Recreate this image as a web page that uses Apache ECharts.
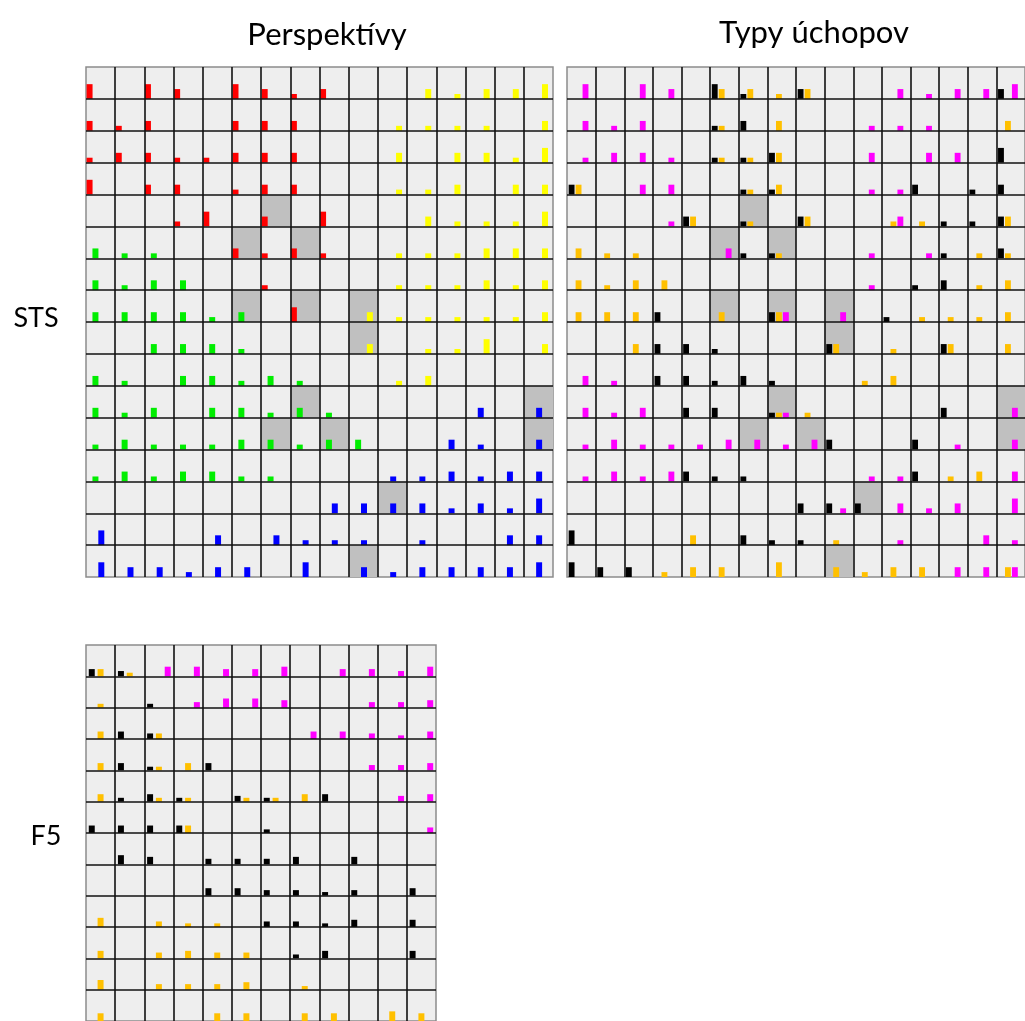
<!DOCTYPE html>
<html>
<head>
<meta charset="utf-8">
<script src="https://cdn.jsdelivr.net/npm/echarts@6.0.0/dist/echarts.min.js"></script>
<style>
  html, body { margin: 0; padding: 0; background: #ffffff; }
  #chart { width: 1025px; height: 1021px; }
</style>
</head>
<body>
<div id="chart"></div>
<script>
// ---- Data: each entry is [column, row, value] ----

// Perspektívy
const perspRed = [
  [0,0,3],[2,0,3],[3,0,2],[5,0,3],[6,0,2],[7,0,1],[8,0,2],
  [0,1,2],[1,1,1],[2,1,2],[5,1,2],[6,1,2],[7,1,2],
  [0,2,1],[1,2,2],[2,2,2],[3,2,1],[4,2,1],[5,2,2],[6,2,2],[7,2,2],
  [0,3,3],[2,3,2],[3,3,2],[5,3,1],[6,3,2],[7,3,2],
  [3,4,1],[4,4,3],[6,4,2],[8,4,3],
  [5,5,2],[6,5,1],[7,5,2],[8,5,1],
  [6,6,1],
  [7,7,3]
];
const perspGreen = [
  [0,5,2],[1,5,1],[2,5,1],
  [0,6,2],[1,6,1],[2,6,2],[3,6,2],
  [0,7,2],[1,7,2],[2,7,2],[3,7,2],[4,7,1],[5,7,2],
  [2,8,2],[3,8,2],[4,8,2],[5,8,1],
  [0,9,2],[1,9,1],[3,9,2],[4,9,2],[5,9,1],[6,9,2],[7,9,1],
  [0,10,2],[1,10,1],[2,10,2],[4,10,2],[5,10,2],[6,10,1],[7,10,2],[8,10,1],
  [0,11,1],[1,11,2],[2,11,1],[3,11,1],[4,11,1],[5,11,2],[6,11,2],[7,11,1],[8,11,2],[9,11,2],
  [0,12,1],[1,12,2],[2,12,1],[3,12,2],[4,12,2],[5,12,1],[6,12,1]
];
const perspBlue = [
  [13,10,2],[15,10,2],
  [12,11,2],[13,11,1],[15,11,2],
  [10,12,1],[11,12,1],[12,12,2],[13,12,1],[14,12,2],[15,12,2],
  [8,13,2],[9,13,2],[10,13,2],[11,13,2],[12,13,1],[13,13,2],[14,13,1],[15,13,3],
  [0,14,3],[4,14,2],[6,14,2],[7,14,1],[8,14,1],[9,14,1],[11,14,1],[14,14,2],[15,14,2],
  [0,15,3],[1,15,2],[2,15,2],[3,15,1],[4,15,2],[5,15,2],[7,15,3],[9,15,2],[10,15,1],
  [11,15,2],[12,15,2],[13,15,2],[14,15,2],[15,15,3]
];
const perspYellow = [
  [11,0,2],[12,0,1],[13,0,2],[14,0,2],[15,0,3],
  [10,1,1],[11,1,1],[12,1,1],[13,1,1],[15,1,2],
  [10,2,2],[12,2,2],[13,2,2],[14,2,1],[15,2,3],
  [10,3,1],[11,3,1],[12,3,2],[14,3,2],[15,3,2],
  [11,4,2],[12,4,1],[13,4,1],[14,4,1],[15,4,3],
  [10,5,1],[11,5,1],[12,5,1],[13,5,2],[14,5,2],[15,5,2],
  [10,6,1],[11,6,1],[12,6,1],[13,6,2],[14,6,1],[15,6,2],
  [9,7,2],[10,7,1],[11,7,1],[12,7,1],[13,7,1],[14,7,1],[15,7,2],
  [9,8,2],[11,8,1],[12,8,1],[13,8,3],[15,8,2],
  [10,9,1],[11,9,2]
];

// Typy úchopov
const typyBlack = [
  [5,0,3],[6,0,1],[8,0,2],[15,0,2],
  [5,1,1],[6,1,2],
  [5,2,1],[6,2,1],[7,2,2],[15,2,3],
  [0,3,2],[6,3,1],[7,3,1],[12,3,2],[14,3,1],[15,3,2],
  [4,4,2],[6,4,1],[8,4,2],[13,4,1],[14,4,1],[15,4,2],
  [6,5,1],[7,5,1],[13,5,1],[15,5,2],
  [12,6,1],[13,6,2],
  [3,7,2],[7,7,2],[11,7,1],
  [3,8,2],[4,8,2],[5,8,1],[9,8,2],[13,8,2],
  [3,9,2],[4,9,2],[5,9,1],[6,9,2],[7,9,1],
  [4,10,2],[5,10,2],[7,10,1],[13,10,2],
  [9,11,2],[12,11,2],
  [4,12,2],[5,12,1],[6,12,1],[12,12,2],
  [8,13,2],[9,13,2],[10,13,2],
  [0,14,3],[6,14,2],[7,14,1],[8,14,1],
  [0,15,3],[1,15,2],[2,15,2]
];
const typyOrange = [
  [5,0,2],[6,0,2],[7,0,1],[8,0,2],
  [5,1,1],[7,1,2],[15,1,2],
  [5,2,1],[6,2,1],[7,2,2],
  [0,3,2],[6,3,1],[7,3,2],
  [4,4,2],[6,4,1],[8,4,2],[11,4,1],[12,4,1],[15,4,2],
  [0,5,2],[1,5,1],[2,5,1],[7,5,1],[14,5,1],[15,5,1],
  [0,6,2],[1,6,1],[2,6,2],[3,6,2],[14,6,1],[15,6,2],
  [0,7,2],[1,7,2],[2,7,2],[5,7,2],[7,7,2],[12,7,1],[13,7,1],[14,7,1],[15,7,2],
  [2,8,2],[9,8,2],[11,8,1],[13,8,2],[15,8,2],
  [10,9,1],[11,9,2],
  [7,10,1],[8,10,1],
  [13,12,1],[14,12,2],
  [4,14,2],[9,14,1],
  [3,15,1],[4,15,2],[5,15,2],[7,15,3],[9,15,2],[10,15,1],[11,15,2],[12,15,2],[15,15,2]
];
const typyMagenta = [
  [0,0,3],[2,0,3],[3,0,2],[11,0,2],[12,0,1],[13,0,2],[14,0,2],[15,0,3],
  [0,1,2],[1,1,1],[2,1,2],[10,1,1],[11,1,1],[12,1,1],
  [0,2,1],[1,2,2],[2,2,2],[3,2,1],[10,2,2],[12,2,2],[13,2,2],
  [2,3,2],[3,3,2],[10,3,1],[11,3,1],
  [3,4,1],[11,4,2],
  [5,5,2],[10,5,1],[12,5,1],
  [10,6,1],
  [7,7,2],[9,7,2],
  [0,9,2],[1,9,1],
  [0,10,2],[1,10,1],[2,10,2],[7,10,1],[15,10,2],
  [0,11,1],[1,11,2],[2,11,1],[3,11,1],[4,11,1],[5,11,2],[6,11,2],[7,11,1],[8,11,2],[13,11,1],[15,11,2],
  [0,12,1],[1,12,2],[2,12,1],[3,12,2],[10,12,1],[11,12,1],[15,12,2],
  [9,13,1],[11,13,2],[12,13,1],[13,13,2],[15,13,3],
  [11,14,1],[14,14,2],[15,14,1],
  [13,15,2],[14,15,2],[15,15,2]
];

// F5
const f5Black = [
  [0,0,1.5],[1,0,1.1],
  [2,1,0.8],
  [1,2,1.55],[2,2,1.15],
  [1,3,1.5],[2,3,0.75],[4,3,1.5],
  [1,4,0.8],[2,4,1.55],[3,4,0.8],[5,4,1.2],[6,4,0.8],[8,4,1.55],
  [0,5,1.55],[1,5,1.55],[2,5,1.55],[3,5,1.55],[6,5,0.75],
  [1,6,1.9],[2,6,1.55],[4,6,1.15],[5,6,1.15],[6,6,1.15],[7,6,1.55],[9,6,1.55],
  [4,7,1.55],[5,7,1.55],[6,7,1.15],[7,7,1.15],[8,7,0.75],[9,7,1.15],[11,7,1.55],
  [6,8,1.15],[7,8,1.15],[8,8,0.75],[9,8,1.5],[11,8,1.5],
  [7,9,0.8],[8,9,1.55],[11,9,1.55]
];
const f5Orange = [
  [0,0,1.5],[1,0,0.75],
  [0,1,0.8],
  [0,2,1.55],[2,2,1.15],
  [0,3,1.5],[2,3,0.75],[3,3,1.5],
  [0,4,1.55],[2,4,0.8],[3,4,0.8],[5,4,0.8],[6,4,0.8],[7,4,1.55],
  [3,5,1.55],
  [0,8,1.9],[2,8,1.15],[3,8,0.75],[4,8,0.75],
  [0,9,1.55],[2,9,1.2],[3,9,1.55],[4,9,1.2],[5,9,1.2],
  [0,10,2],[2,10,1.15],[3,10,1.15],[4,10,1.15],[5,10,1.55],[7,10,0.75],
  [0,11,1.6],[4,11,1.6],[5,11,1.6],[7,11,1.6],[8,11,1.6],[10,11,2],[11,11,1.6]
];
const f5Magenta = [
  [2,0,2],[3,0,2],[4,0,1.5],[5,0,1.5],[6,0,2],[8,0,1.5],[9,0,1.5],[10,0,1.1],[11,0,2],
  [3,1,1.15],[4,1,1.9],[5,1,1.9],[6,1,1.55],[9,1,1.15],[10,1,1.15],[11,1,1.55],
  [7,2,1.55],[8,2,1.55],[9,2,1.15],[10,2,0.75],[11,2,1.55],
  [9,3,1.1],[10,3,1.1],[11,3,1.5],
  [10,4,1.2],[11,4,1.55],
  [11,5,1.15]
];

// Cells without data: [column, row]
const missingCells = [
  [6,4],[5,5],[7,5],[5,7],[7,7],[9,7],[9,8],[7,10],[15,10],
  [6,11],[8,11],[15,11],[10,13],[9,15]
];

// Panel titles and row-group labels
const panelTitles = ['Perspektívy', 'Typy úchopov'];
const rowGroupLabels = ['STS', 'F5'];

// ---- Layout ----
const ROW_SPAN = 6.5; // value units spanned by one matrix row

const panels = [
  { cols: 16, rows: 16, grid: { left: 86, top: 67, width: 467, height: 510 },
    slots: { start: 0.02, step: 0.201, width: 0.205 } },
  { cols: 16, rows: 16, grid: { left: 567, top: 67, width: 467, height: 510 },
    slots: { start: 0.058, step: 0.243, width: 0.205 } },
  { cols: 12, rows: 12, grid: { left: 86, top: 645, width: 350, height: 382 },
    slots: { start: 0.095, step: 0.302, width: 0.205 } }
];

const barGroups = [
  { panel: 0, slot: 0, color: '#ff0000', name: 'perspRed', data: perspRed },
  { panel: 0, slot: 1, color: '#00ee00', name: 'perspGreen', data: perspGreen },
  { panel: 0, slot: 2, color: '#0000ff', name: 'perspBlue', data: perspBlue },
  { panel: 0, slot: 3, color: '#ffff00', name: 'perspYellow', data: perspYellow },
  { panel: 1, slot: 0, color: '#000000', name: 'typyBlack', data: typyBlack },
  { panel: 1, slot: 1, color: '#ffc000', name: 'typyOrange', data: typyOrange },
  { panel: 1, slot: 2, color: '#ff00ff', name: 'typyMagenta', data: typyMagenta },
  { panel: 2, slot: 0, color: '#000000', name: 'f5Black', data: f5Black },
  { panel: 2, slot: 1, color: '#ffc000', name: 'f5Orange', data: f5Orange },
  { panel: 2, slot: 2, color: '#ff00ff', name: 'f5Magenta', data: f5Magenta }
];

// Small bar standing on the bottom edge of its matrix cell
function makeBarRenderer(slots, slot, color) {
  return function (params, api) {
    const col = api.value(0), row = api.value(1), v = api.value(2);
    const x0 = col + slots.start + slot * slots.step;
    const base = (row + 1) * ROW_SPAN;
    const a = api.coord([x0, base]);
    const b = api.coord([x0 + slots.width, base - v]);
    return {
      type: 'rect',
      shape: { x: a[0], y: b[1], width: b[0] - a[0], height: a[1] - b[1] },
      style: { fill: color }
    };
  };
}

// Grey fill for a whole cell
function renderMissingCell(params, api) {
  const col = api.value(0), row = api.value(1);
  const a = api.coord([col, row * ROW_SPAN]);
  const b = api.coord([col + 1, (row + 1) * ROW_SPAN]);
  return {
    type: 'rect',
    shape: { x: a[0], y: a[1], width: b[0] - a[0], height: b[1] - a[1] },
    style: { fill: '#c0c0c0' }
  };
}

const lineStyle = { color: '#111111', width: 1.6 };

const grid = panels.map(p => Object.assign({
  show: true, backgroundColor: '#eeeeee', borderColor: '#8c8c8c', borderWidth: 1.5
}, p.grid));

const xAxis = panels.map((p, i) => ({
  gridIndex: i, type: 'value', min: 0, max: p.cols, interval: 1, z: 5,
  axisLine: { show: false }, axisTick: { show: false }, axisLabel: { show: false },
  splitLine: { show: true, showMinLine: false, showMaxLine: false, lineStyle: lineStyle }
}));

const yAxis = panels.map((p, i) => ({
  gridIndex: i, type: 'value', inverse: true, min: 0, max: p.rows * ROW_SPAN,
  interval: ROW_SPAN, z: 5,
  axisLine: { show: false }, axisTick: { show: false }, axisLabel: { show: false },
  splitLine: { show: true, showMinLine: false, showMaxLine: false, lineStyle: lineStyle }
}));

const series = [];
[0, 1].forEach(i => {
  series.push({
    type: 'custom', name: 'missing' + i, xAxisIndex: i, yAxisIndex: i,
    renderItem: renderMissingCell, data: missingCells, z: 1, silent: true
  });
});
barGroups.forEach(g => {
  series.push({
    type: 'custom', name: g.name, xAxisIndex: g.panel, yAxisIndex: g.panel,
    renderItem: makeBarRenderer(panels[g.panel].slots, g.slot, g.color),
    data: g.data, z: 2, silent: true
  });
});

const titleFont = '31px Lato, "Open Sans", sans-serif';
const labelFont = '27px Lato, "Open Sans", sans-serif';
const graphic = [
  { type: 'text', x: 327, y: 35, style: { text: panelTitles[0], font: titleFont, fill: '#000', align: 'center', verticalAlign: 'middle' } },
  { type: 'text', x: 814, y: 33, style: { text: panelTitles[1], font: titleFont, fill: '#000', align: 'center', verticalAlign: 'middle' } },
  { type: 'text', x: 36, y: 318, style: { text: rowGroupLabels[0], font: labelFont, fill: '#000', align: 'center', verticalAlign: 'middle' } },
  { type: 'text', x: 46, y: 836, style: { text: rowGroupLabels[1], font: labelFont, fill: '#000', align: 'center', verticalAlign: 'middle' } }
];

const chart = echarts.init(document.getElementById('chart'), null, { renderer: 'canvas' });
chart.setOption({
  animation: false,
  backgroundColor: '#ffffff',
  grid: grid,
  xAxis: xAxis,
  yAxis: yAxis,
  series: series,
  graphic: graphic
});
</script>
</body>
</html>
